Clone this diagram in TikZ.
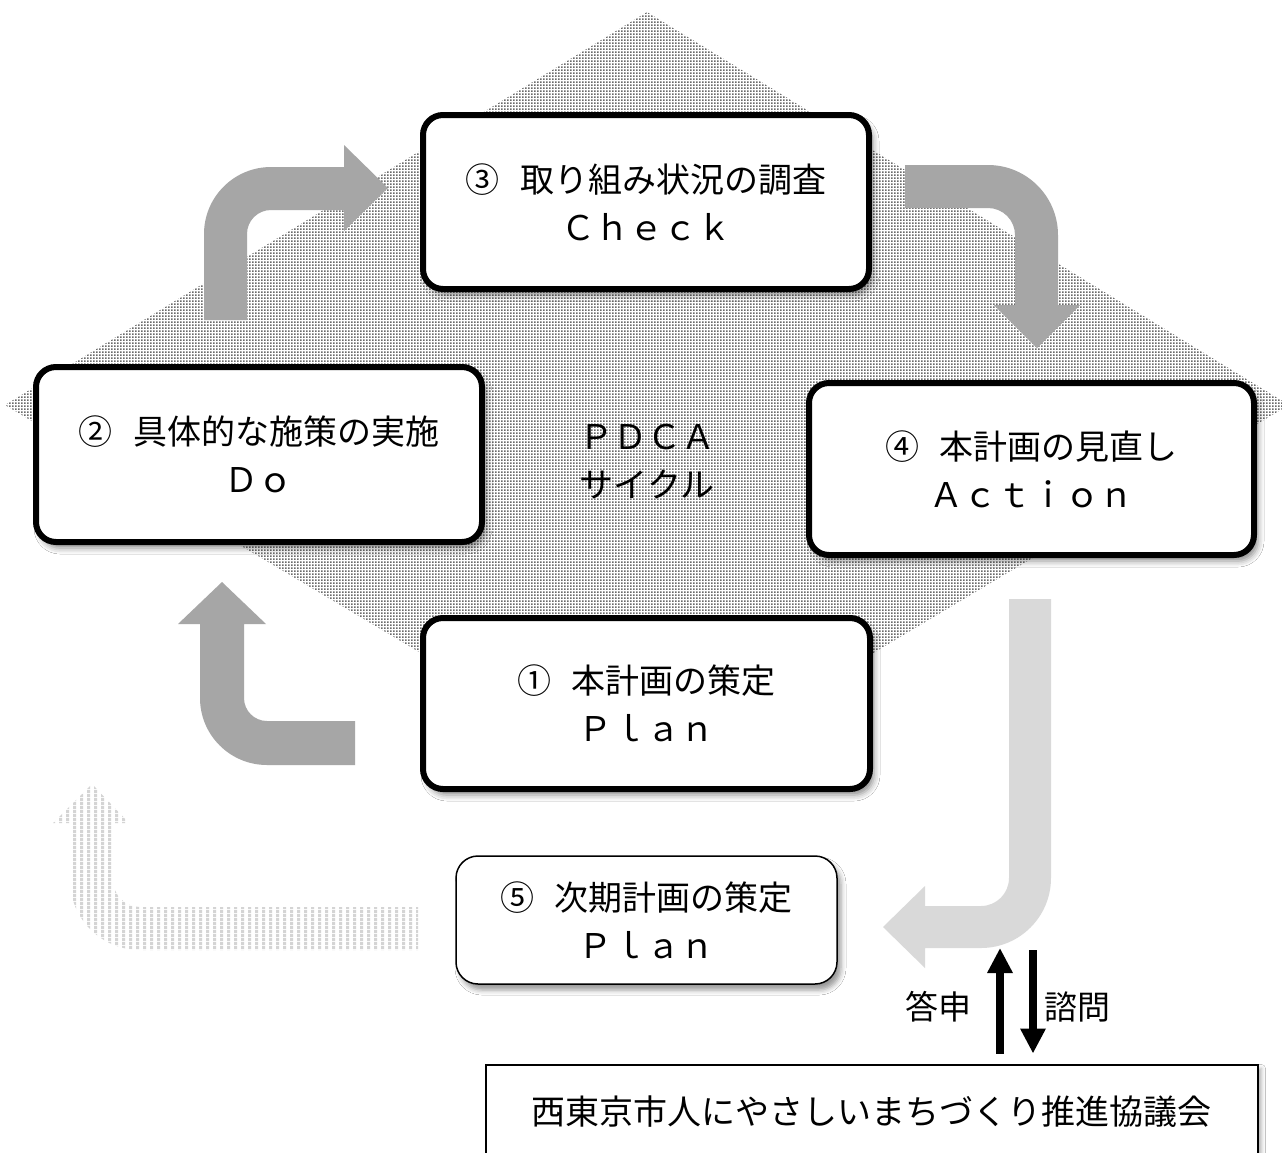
\documentclass[tikz,border=0pt]{standalone}
\usepackage{fontspec}
\setmainfont{Noto Sans CJK JP}
\usetikzlibrary{arrows.meta,shadows.blur,patterns.meta}
\tikzdeclarepattern{
  name=pdots,
  type=uncolored,
  bounding box={(0pt,0pt) and (1.65pt,1.65pt)},
  tile size={(1.65pt,1.65pt)},
  code={\fill (0pt,0pt) rectangle (1.05pt,1.05pt);}
}
\tikzdeclarepattern{
  name=vstripes,
  type=uncolored,
  bounding box={(0pt,0pt) and (3.3pt,2pt)},
  tile size={(3.3pt,2pt)},
  code={\fill (0pt,0pt) rectangle (1.65pt,2pt);}
}
\definecolor{arrowgray}{HTML}{A6A6A6}
\definecolor{lightarrow}{HTML}{D9D9D9}
\definecolor{stripegray}{HTML}{D4D4D4}
\definecolor{dotgray}{HTML}{6A6A6A}
\begin{document}
\begin{tikzpicture}[x=0.5pt,y=-0.5pt,
  jtext/.style={font=\fontsize{17pt}{24pt}\selectfont, align=center},
  stepbox/.style={jtext, draw=black, line width=3pt, rounded corners=10pt, fill=white, inner sep=0pt,
    blur shadow={shadow xshift=2pt, shadow yshift=-3pt, shadow blur radius=3pt, shadow opacity=45}},
  nextbox/.style={jtext, draw=black, line width=0.75pt, rounded corners=11pt, fill=white, inner sep=0pt,
    blur shadow={shadow xshift=2pt, shadow yshift=-3pt, shadow blur radius=2.5pt, shadow opacity=40}},
  councilbox/.style={jtext, draw=black, line width=1pt, fill=white, inner sep=0pt,
    blur shadow={shadow xshift=2pt, shadow yshift=-2pt, shadow blur radius=2pt, shadow opacity=30}},
  fatarrow/.style={fill=arrowgray},
  lightfat/.style={fill=lightarrow},
  stripefat/.style={pattern=vstripes, pattern color=stripegray},
  blackarrow/.style={line width=4pt, -{Triangle[length=12.5pt,width=12pt]}},
  label/.style={font=\fontsize{16.5pt}{20pt}\selectfont}
]
\clip (0,0) rectangle (1282,1153);
\fill[white] (0,0) rectangle (1282,1153);

% dotted diamond
\fill[pattern=pdots, pattern color=dotgray] (647,12) -- (1289,405) -- (647,788) -- (5,405) -- cycle;

% fat grey arrows
% 2 -> 3
\fill[fatarrow] (204,320) -- (204,234) arc[start angle=180,end angle=270,radius=67] -- (344,167) -- (344,145) -- (388,188) -- (344,231) -- (344,210) -- (271,210) arc[start angle=270,end angle=180,radius=24] -- (247,320) -- cycle;
% 3 -> 4
\fill[fatarrow] (905,165) -- (988,165) arc[start angle=270,end angle=360,radius=70] -- (1058,305) -- (1080,305) -- (1037,348) -- (994,305) -- (1015,305) -- (1015,235) arc[start angle=0,end angle=-90,radius=27] -- (905,208) -- cycle;
% 1 -> 2
\fill[fatarrow] (355,765) -- (267,765) arc[start angle=90,end angle=180,radius=67] -- (200,624) -- (178,624) -- (222,582) -- (266,624) -- (244,624) -- (244,698) arc[start angle=180,end angle=90,radius=23] -- (355,721) -- cycle;
% 4 -> 5
\fill[lightfat] (1009,599) -- (1051,599) -- (1051,878) arc[start angle=0,end angle=90,radius=70] -- (925,948) -- (925,968) -- (883,927) -- (925,886) -- (925,906) -- (981,906) arc[start angle=90,end angle=0,radius=28] -- cycle;
% 5 -> next cycle (striped)
\fill[stripefat] (418,950) -- (140,950) arc[start angle=90,end angle=180,radius=70] -- (70,823) -- (53,823) -- (92,784) -- (129,823) -- (113,823) -- (113,880) arc[start angle=180,end angle=90,radius=27] -- (418,907) -- cycle;

% boxes
\node[stepbox, minimum width=223pt, minimum height=87pt] (check) at (646,202) {③\hspace{0.6em}取り組み状況の調査\\Ｃｈｅｃｋ};
\node[stepbox, minimum width=223pt, minimum height=87.5pt] (do) at (259,454.5) {②\hspace{0.6em}具体的な施策の実施\\Ｄｏ};
\node[stepbox, minimum width=222.5pt, minimum height=86pt] (action) at (1031.5,469) {④\hspace{0.6em}本計画の見直し\\Ａｃｔｉｏｎ};
\node[stepbox, minimum width=223.5pt, minimum height=85.5pt] (plan) at (646.5,703.5) {①\hspace{0.6em}本計画の策定\\Ｐｌａｎ};
\node[nextbox, minimum width=190.5pt, minimum height=64pt] (next) at (646.5,920) {⑤\hspace{0.6em}次期計画の策定\\Ｐｌａｎ};
\node[councilbox, minimum width=386pt, minimum height=47pt] (council) at (871.5,1111.5) {\raisebox{-1pt}{西東京市人にやさしいまちづくり推進協議会}};

\node[jtext] (pdca) at (647,462) {ＰＤＣＡ\\サイクル};

% black arrows
\coordinate (upTip) at (1000,948);
\coordinate (downTop) at (1033,950);
\path (council.north -| upTip) ++(0,-10) coordinate (upBase);
\path (council.north -| downTop) ++(0,-10) coordinate (downBase);
\draw[blackarrow] (upBase) -- (upTip);
\draw[blackarrow] (downTop) -- (downBase);
\node[label] (toshin) at (938,1007) {答申};
\node[label] (shimon) at (1077,1007) {諮問};
\end{tikzpicture}
\end{document}
